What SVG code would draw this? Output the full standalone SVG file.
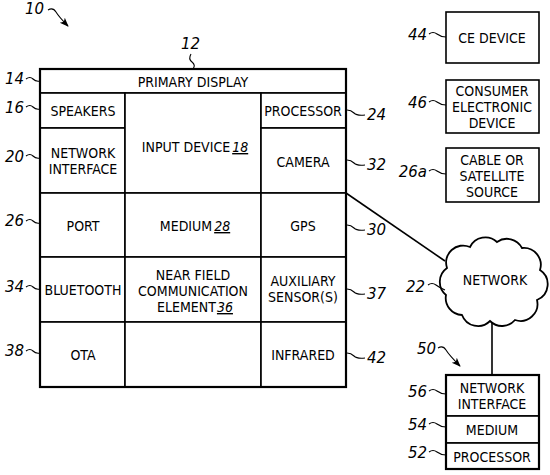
<svg xmlns="http://www.w3.org/2000/svg" width="550" height="475" viewBox="0 0 550 475">
<style>
  rect.c { fill: #fff; stroke: #000; stroke-width: 1.6; }
  rect.frame { fill: none; stroke: #000; stroke-width: 2.2; }
  text.t { font-family: "DejaVu Sans Condensed", "DejaVu Sans", sans-serif; font-stretch: condensed; font-size: 14px; text-anchor: middle; fill: #000; }
  text.n { font-family: "DejaVu Sans", sans-serif; font-style: italic; font-size: 15px; fill: #000; }
  text.l { text-anchor: end; }
  tspan.u { font-style: italic; text-decoration: underline; }
  path.sq { fill: none; stroke: #000; stroke-width: 1.1; }
  .line { fill: none; stroke: #000; stroke-width: 1.6; }
</style>
<defs>
  <marker id="ah" viewBox="0 0 10 10" refX="9" refY="5" markerWidth="9" markerHeight="9" markerUnits="userSpaceOnUse" orient="auto">
    <path d="M0,1 L10,5 L0,9 L2.5,5 Z" fill="#000"/>
  </marker>
</defs>
<rect width="550" height="475" fill="#fff"/>

<g id="connectors">
  <path class="line" d="M346,193 L445,261"/>
  <path class="line" d="M492,322 L492,375"/>
</g>

<g id="device-10">
  <g id="primary-display"><rect class="c" x="40" y="69" width="306" height="24"/><text class="t" x="193" y="87">PRIMARY DISPLAY</text></g>
  <g id="speakers"><rect class="c" x="40" y="93" width="85" height="35"/><text class="t" x="83" y="116">SPEAKERS</text></g>
  <g id="network-interface"><rect class="c" x="40" y="128" width="85" height="65"/><text class="t" x="83" y="158">NETWORK</text><text class="t" x="83" y="174">INTERFACE</text></g>
  <g id="input-device"><rect class="c" x="125" y="93" width="136" height="100"/><text class="t" x="195" y="152">INPUT DEVICE<tspan class="u" dx="2">18</tspan></text></g>
  <g id="processor"><rect class="c" x="261" y="93" width="85" height="35"/><text class="t" x="303" y="116">PROCESSOR</text></g>
  <g id="camera"><rect class="c" x="261" y="128" width="85" height="65"/><text class="t" x="303" y="167">CAMERA</text></g>
  <g id="port"><rect class="c" x="40" y="193" width="85" height="64"/><text class="t" x="83" y="231">PORT</text></g>
  <g id="medium"><rect class="c" x="125" y="193" width="136" height="64"/><text class="t" x="195" y="231">MEDIUM<tspan class="u" dx="2">28</tspan></text></g>
  <g id="gps"><rect class="c" x="261" y="193" width="85" height="64"/><text class="t" x="303" y="231">GPS</text></g>
  <g id="bluetooth"><rect class="c" x="40" y="257" width="85" height="65"/><text class="t" x="83" y="295">BLUETOOTH</text></g>
  <g id="nfc"><rect class="c" x="125" y="257" width="136" height="65"/><text class="t" x="193" y="280">NEAR FIELD</text><text class="t" x="193" y="296">COMMUNICATION</text><text class="t" x="195" y="312">ELEMENT<tspan class="u" dx="1">36</tspan></text></g>
  <g id="auxiliary"><rect class="c" x="261" y="257" width="85" height="65"/><text class="t" x="303" y="286">AUXILIARY</text><text class="t" x="303" y="302">SENSOR(S)</text></g>
  <g id="ota"><rect class="c" x="40" y="322" width="85" height="65"/><text class="t" x="83" y="360">OTA</text></g>
  <g id="empty-cell"><rect class="c" x="125" y="322" width="136" height="65"/></g>
  <g id="infrared"><rect class="c" x="261" y="322" width="85" height="65"/><text class="t" x="303" y="360">INFRARED</text></g>
  <rect class="frame" x="40" y="69" width="306" height="318"/>
</g>

<g id="ce-device"><rect class="c" x="446" y="12" width="93" height="51"/><text class="t" x="492" y="43">CE DEVICE</text></g>
<g id="consumer-electronic-device"><rect class="c" x="446" y="80" width="93" height="53"/><text class="t" x="492" y="96">CONSUMER</text><text class="t" x="492" y="112">ELECTRONIC</text><text class="t" x="492" y="128">DEVICE</text></g>
<g id="cable-source"><rect class="c" x="446" y="148" width="93" height="54"/><text class="t" x="492" y="165">CABLE OR</text><text class="t" x="492" y="181">SATELLITE</text><text class="t" x="492" y="197">SOURCE</text></g>

<g id="network">
  <path fill="#fff" stroke="#000" stroke-width="1.8" d="M447,268 A17,17 0 0 1 470,247 A17,17 0 0 1 497,242 A17,17 0 0 1 522,248 A17,17 0 0 1 540,270 A17,17 0 0 1 537,300 A17,17 0 0 1 515,320 A17,17 0 0 1 490,321 A17,17 0 0 1 462,315 A17,17 0 0 1 446,295 A17,17 0 0 1 447,268 Z"/>
  <text class="t" x="495" y="285">NETWORK</text>
</g>

<g id="device-50">
  <g id="net-if-50"><rect class="c" x="446" y="375" width="93" height="41"/><text class="t" x="492" y="393">NETWORK</text><text class="t" x="492" y="409">INTERFACE</text></g>
  <g id="medium-50"><rect class="c" x="446" y="416" width="93" height="27"/><text class="t" x="492" y="435">MEDIUM</text></g>
  <g id="processor-50"><rect class="c" x="446" y="443" width="93" height="26"/><text class="t" x="492" y="462">PROCESSOR</text></g>
  <rect class="frame" x="446" y="375" width="93" height="94"/>
</g>

<g id="labels">
  <text class="n" x="25" y="14">10</text>
  <path class="sq" d="M48,10 q5,-3 8,2 T68,26" marker-end="url(#ah)"/>
  <text class="n" x="181" y="49">12</text>
  <path class="sq" d="M191,54 q-3,5 1,8 T193,69"/>
  <text class="n l" x="24" y="84">14</text>
  <path class="sq" d="M26,79 q4,-3 7,0 T40,81"/>
  <text class="n l" x="24" y="113">16</text>
  <path class="sq" d="M26,107 q4,-3 7,0 T40,109"/>
  <text class="n l" x="24" y="162">20</text>
  <path class="sq" d="M26,156 q4,-3 7,0 T40,158"/>
  <text class="n l" x="24" y="226">26</text>
  <path class="sq" d="M26,221 q4,-3 7,0 T40,223"/>
  <text class="n l" x="24" y="292">34</text>
  <path class="sq" d="M26,287 q4,-3 7,0 T40,289"/>
  <text class="n l" x="24" y="356">38</text>
  <path class="sq" d="M26,351 q4,-3 7,0 T40,353"/>

  <text class="n" x="367" y="120">24</text>
  <path class="sq" d="M347,110 q4,0 7,3 T365,115"/>
  <text class="n" x="367" y="170">32</text>
  <path class="sq" d="M347,160 q4,0 7,3 T365,165"/>
  <text class="n" x="367" y="235">30</text>
  <path class="sq" d="M347,225 q4,0 7,3 T365,230"/>
  <text class="n" x="367" y="299">37</text>
  <path class="sq" d="M347,289 q4,0 7,3 T365,294"/>
  <text class="n" x="367" y="363">42</text>
  <path class="sq" d="M347,353 q4,0 7,3 T365,358"/>

  <text class="n l" x="427" y="40">44</text>
  <path class="sq" d="M429,34 q4,-3 8,0 T446,37"/>
  <text class="n l" x="427" y="108">46</text>
  <path class="sq" d="M429,102 q4,-3 8,0 T446,105"/>
  <text class="n l" x="427" y="177">26a</text>
  <path class="sq" d="M429,171 q4,-3 8,0 T446,174"/>
  <text class="n l" x="425" y="292">22</text>
  <path class="sq" d="M428,285 q4,-3 8,0 T445,290"/>
  <text class="n" x="417" y="354">50</text>
  <path class="sq" d="M438,348 q5,-3 8,2 T460,366" marker-end="url(#ah)"/>
  <text class="n l" x="427" y="397">56</text>
  <path class="sq" d="M429,391 q4,-3 8,0 T446,394"/>
  <text class="n l" x="427" y="430">54</text>
  <path class="sq" d="M429,424 q4,-3 8,0 T446,427"/>
  <text class="n l" x="427" y="458">52</text>
  <path class="sq" d="M429,452 q4,-3 8,0 T446,455"/>
</g>
</svg>
